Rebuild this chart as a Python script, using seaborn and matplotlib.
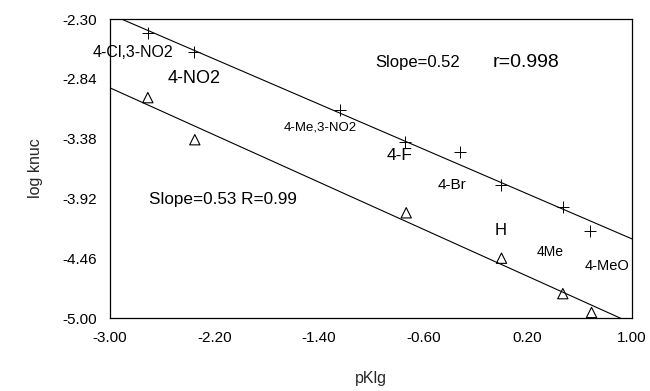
import numpy as np
import pandas as pd
import matplotlib
matplotlib.use('Agg')
import matplotlib.pyplot as plt
import seaborn as sns

# values
plus_x = [-2.71, -2.36, -1.24, -0.74, -0.32, 0.00, 0.47, 0.68]
plus_y = [-2.43, -2.60, -3.12, -3.41, -3.50, -3.80, -4.00, -4.21]
tri_x = [-2.71, -2.35, -0.73, 0.00, 0.47, 0.69]
tri_y = [-3.01, -3.39, -4.05, -4.46, -4.78, -4.95]

x_ticks = [-3.00, -2.20, -1.40, -0.60, 0.20, 1.00]
y_ticks = [-2.30, -2.84, -3.38, -3.92, -4.46, -5.00]

# substituent labels (text, x, y, size)
labels = [
    ('4-Cl,3-NO2', -3.13, -2.60, 11.5),
    ('4-NO2', -2.56, -2.84, 13),
    ('4-Me,3-NO2', -1.67, -3.28, 9.5),
    ('4-F', -0.88, -3.53, 12.5),
    ('4-Br', -0.49, -3.80, 11),
    ('H', -0.05, -4.21, 12),
    ('4Me', 0.27, -4.40, 10),
    ('4-MeO', 0.64, -4.53, 10.5),
    ('Slope=0.52', -0.97, -2.69, 12),
    ('r=0.998', -0.07, -2.69, 14),
    ('Slope=0.53 R=0.99', -2.70, -3.93, 12.3),
]

plus = pd.DataFrame({'pKlg': plus_x, 'logk': plus_y})
tri = pd.DataFrame({'pKlg': tri_x, 'logk': tri_y})

sns.set_theme(style='white')
plt.rcParams['font.family'] = ['Liberation Sans', 'DejaVu Sans']

fig = plt.figure(figsize=(6.5, 3.91), dpi=100)
ax = fig.add_axes([0.1692, 0.1867, 0.8031, 0.7647])
ax.set_xlim(-3.0, 1.0)
ax.set_ylim(-5.0, -2.30)

sns.regplot(x='pKlg', y='logk', data=plus, scatter=False, ci=None, truncate=False,
            color='black', line_kws={'linewidth': 0.8}, ax=ax)
sns.regplot(x='pKlg', y='logk', data=tri, scatter=False, ci=None, truncate=False,
            color='black', line_kws={'linewidth': 0.8}, ax=ax)
sns.scatterplot(x='pKlg', y='logk', data=plus, marker='+', s=70, color='black',
                linewidth=0.7, ax=ax, zorder=3)
sns.scatterplot(x='pKlg', y='logk', data=tri, marker='^', s=55, facecolors='none',
                edgecolor='black', linewidth=0.8, ax=ax, zorder=3)

for txt, x, y, size in labels:
    ax.text(x, y, txt, fontsize=size, ha='left', va='center', color='black')

ax.set_xlim(-3.0, 1.0)
ax.set_ylim(-5.0, -2.30)
ax.set_xticks(x_ticks)
ax.set_yticks(y_ticks)
ax.set_xticklabels(['%.2f' % v for v in x_ticks])
ax.set_yticklabels(['%.2f' % v for v in y_ticks])
ax.tick_params(direction='in', length=5, width=0.8, colors='black', labelsize=11, pad=9)
for sp in ax.spines.values():
    sp.set_color('black')
    sp.set_linewidth(0.9)

ax.set_xlabel('pKlg', fontsize=11.5, labelpad=19)
ax.set_ylabel('log knuc', fontsize=11.5, labelpad=14)

fig.savefig('out.png', dpi=100, facecolor='white')
